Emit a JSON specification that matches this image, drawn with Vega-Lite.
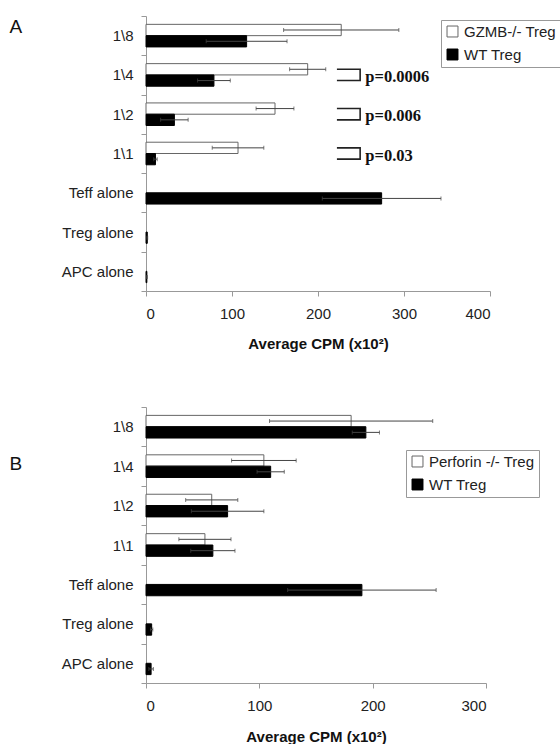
{
  "$schema": "https://vega.github.io/schema/vega-lite/v6.json",
  "padding": {"left": 9, "top": 9, "right": 0, "bottom": 0},
  "config": {
    "view": {"stroke": null},
    "font": "Liberation Sans",
    "axis": {
      "grid": false,
      "domainColor": "#999999",
      "tickColor": "#999999",
      "tickSize": 5,
      "labelFontSize": 15,
      "labelColor": "#222222",
      "labelFont": "Liberation Sans",
      "titleFont": "Liberation Sans",
      "titleColor": "#111111"
    },
    "legend": {
      "orient": "none",
      "title": null,
      "symbolType": "square",
      "symbolSize": 120,
      "symbolStrokeWidth": 1,
      "labelFontSize": 15,
      "labelColor": "#222222",
      "labelFont": "Liberation Sans",
      "strokeColor": "#999999",
      "fillColor": "white",
      "padding": 4,
      "rowPadding": 7,
      "labelOffset": 4
    }
  },
  "datasets": {
    "gzmb": [
      {"group": "1\\8", "series": "GZMB-/- Treg", "cpm": 227, "lo": 160, "hi": 294},
      {"group": "1\\8", "series": "WT Treg", "cpm": 117, "lo": 70, "hi": 164},
      {"group": "1\\4", "series": "GZMB-/- Treg", "cpm": 188, "lo": 167, "hi": 209},
      {"group": "1\\4", "series": "WT Treg", "cpm": 79, "lo": 60, "hi": 98},
      {"group": "1\\2", "series": "GZMB-/- Treg", "cpm": 150, "lo": 128, "hi": 172},
      {"group": "1\\2", "series": "WT Treg", "cpm": 33, "lo": 17, "hi": 49},
      {"group": "1\\1", "series": "GZMB-/- Treg", "cpm": 107, "lo": 77, "hi": 137},
      {"group": "1\\1", "series": "WT Treg", "cpm": 11, "lo": 9, "hi": 13},
      {"group": "Teff alone", "series": "WT Treg", "cpm": 274, "lo": 205, "hi": 343},
      {"group": "Treg alone", "series": "WT Treg", "cpm": 1.5, "lo": 1, "hi": 2},
      {"group": "APC alone", "series": "WT Treg", "cpm": 1, "lo": 0.5, "hi": 1.5}
    ],
    "brackets": [
      {"id": "b1", "group": "1\\4", "series": "GZMB-/- Treg", "cpm": 222, "step": 1},
      {"id": "b1", "group": "1\\4", "series": "GZMB-/- Treg", "cpm": 249, "step": 2},
      {"id": "b1", "group": "1\\4", "series": "WT Treg", "cpm": 249, "step": 3},
      {"id": "b1", "group": "1\\4", "series": "WT Treg", "cpm": 222, "step": 4},
      {"id": "b2", "group": "1\\2", "series": "GZMB-/- Treg", "cpm": 222, "step": 1},
      {"id": "b2", "group": "1\\2", "series": "GZMB-/- Treg", "cpm": 249, "step": 2},
      {"id": "b2", "group": "1\\2", "series": "WT Treg", "cpm": 249, "step": 3},
      {"id": "b2", "group": "1\\2", "series": "WT Treg", "cpm": 222, "step": 4},
      {"id": "b3", "group": "1\\1", "series": "GZMB-/- Treg", "cpm": 222, "step": 1},
      {"id": "b3", "group": "1\\1", "series": "GZMB-/- Treg", "cpm": 249, "step": 2},
      {"id": "b3", "group": "1\\1", "series": "WT Treg", "cpm": 249, "step": 3},
      {"id": "b3", "group": "1\\1", "series": "WT Treg", "cpm": 222, "step": 4}
    ],
    "pvals": [
      {"group": "1\\4", "label": "p=0.0006", "cpm": 255},
      {"group": "1\\2", "label": "p=0.006", "cpm": 255},
      {"group": "1\\1", "label": "p=0.03", "cpm": 255}
    ],
    "perforin": [
      {"group": "1\\8", "series": "Perforin -/- Treg", "cpm": 181, "lo": 109, "hi": 253},
      {"group": "1\\8", "series": "WT Treg", "cpm": 194, "lo": 182, "hi": 206},
      {"group": "1\\4", "series": "Perforin -/- Treg", "cpm": 104, "lo": 75.5, "hi": 132.5},
      {"group": "1\\4", "series": "WT Treg", "cpm": 110, "lo": 98, "hi": 122},
      {"group": "1\\2", "series": "Perforin -/- Treg", "cpm": 58, "lo": 35, "hi": 81},
      {"group": "1\\2", "series": "WT Treg", "cpm": 72, "lo": 40, "hi": 104},
      {"group": "1\\1", "series": "Perforin -/- Treg", "cpm": 52, "lo": 29, "hi": 75},
      {"group": "1\\1", "series": "WT Treg", "cpm": 59, "lo": 39.5, "hi": 78.5},
      {"group": "Teff alone", "series": "WT Treg", "cpm": 190.5, "lo": 125, "hi": 256},
      {"group": "Treg alone", "series": "WT Treg", "cpm": 5, "lo": 4, "hi": 6},
      {"group": "APC alone", "series": "WT Treg", "cpm": 4.5, "lo": 2.5, "hi": 6.5}
    ]
  },
  "vconcat": [
    {
      "width": 344,
      "height": 275,
      "encoding": {
        "y": {
          "field": "group", "type": "nominal", "sort": ["1\\8", "1\\4", "1\\2", "1\\1", "Teff alone", "Treg alone", "APC alone"],
          "scale": {"paddingInner": 0, "paddingOuter": 0},
          "axis": {
            "title": "A", "titleAngle": 0, "titleX": -137, "titleY": 1,
            "titleAlign": "left", "titleBaseline": "top", "titleFontSize": 19, "titleFontWeight": "normal",
            "tickBand": "extent", "labelPadding": 8
          }
        },
        "yOffset": {"field": "series", "type": "nominal", "scale": {"domain": ["GZMB-/- Treg", "WT Treg"], "paddingInner": 0, "paddingOuter": 0.74}}
      },
      "layer": [
        {
          "data": {"name": "gzmb"},
          "mark": {"type": "bar", "strokeWidth": 1},
          "encoding": {
            "x": {
              "field": "cpm", "type": "quantitative", "scale": {"domain": [0, 400], "nice": false},
              "axis": {"title": "Average CPM (x10²)", "values": [0, 100, 200, 300, 400], "labelPadding": 10, "titleFontSize": 15, "titleFontWeight": "bold", "titlePadding": 15}
            },
            "fill": {"field": "series", "type": "nominal", "scale": {"domain": ["GZMB-/- Treg", "WT Treg"], "range": ["#ffffff", "#000000"]}, "legend": {"legendX": 295, "legendY": 4}},
            "stroke": {"field": "series", "type": "nominal", "scale": {"domain": ["GZMB-/- Treg", "WT Treg"], "range": ["#666666", "#000000"]}, "legend": {"legendX": 295, "legendY": 4}}
          }
        },
        {
          "data": {"name": "gzmb"},
          "mark": {"type": "rule", "color": "#444444", "strokeWidth": 1},
          "encoding": {"x": {"field": "lo", "type": "quantitative"}, "x2": {"field": "hi"}}
        },
        {
          "data": {"name": "gzmb"},
          "mark": {"type": "tick", "color": "#444444", "thickness": 1, "size": 4},
          "encoding": {"x": {"field": "lo", "type": "quantitative"}}
        },
        {
          "data": {"name": "gzmb"},
          "mark": {"type": "tick", "color": "#444444", "thickness": 1, "size": 4},
          "encoding": {"x": {"field": "hi", "type": "quantitative"}}
        },
        {
          "data": {"name": "brackets"},
          "mark": {"type": "line", "color": "#222222", "strokeWidth": 1.6},
          "encoding": {
            "x": {"field": "cpm", "type": "quantitative"},
            "detail": {"field": "id"},
            "order": {"field": "step", "type": "quantitative"}
          }
        },
        {
          "data": {"name": "pvals"},
          "mark": {"type": "text", "align": "left", "baseline": "middle", "dy": 2, "font": "Liberation Serif", "fontWeight": "bold", "fontSize": 16.5, "color": "#111111"},
          "encoding": {
            "x": {"field": "cpm", "type": "quantitative"},
            "yOffset": null,
            "text": {"field": "label"}
          }
        }
      ]
    },
    {
      "width": 340,
      "height": 276,
      "encoding": {
        "y": {
          "field": "group", "type": "nominal", "sort": ["1\\8", "1\\4", "1\\2", "1\\1", "Teff alone", "Treg alone", "APC alone"],
          "scale": {"paddingInner": 0, "paddingOuter": 0},
          "axis": {
            "title": "B", "titleAngle": 0, "titleX": -137, "titleY": 47,
            "titleAlign": "left", "titleBaseline": "top", "titleFontSize": 19, "titleFontWeight": "normal",
            "tickBand": "extent", "labelPadding": 8
          }
        },
        "yOffset": {"field": "series", "type": "nominal", "scale": {"domain": ["Perforin -/- Treg", "WT Treg"], "paddingInner": 0, "paddingOuter": 0.74}}
      },
      "layer": [
        {
          "data": {"name": "perforin"},
          "mark": {"type": "bar", "strokeWidth": 1},
          "encoding": {
            "x": {
              "field": "cpm", "type": "quantitative", "scale": {"domain": [0, 300], "nice": false},
              "axis": {"title": "Average CPM (x10²)", "values": [0, 100, 200, 300], "labelPadding": 10, "titleFontSize": 15, "titleFontWeight": "bold", "titlePadding": 16}
            },
            "fill": {"field": "series", "type": "nominal", "scale": {"domain": ["Perforin -/- Treg", "WT Treg"], "range": ["#ffffff", "#000000"]}, "legend": {"legendX": 260, "legendY": 43}},
            "stroke": {"field": "series", "type": "nominal", "scale": {"domain": ["Perforin -/- Treg", "WT Treg"], "range": ["#666666", "#000000"]}, "legend": {"legendX": 260, "legendY": 43}}
          }
        },
        {
          "data": {"name": "perforin"},
          "mark": {"type": "rule", "color": "#444444", "strokeWidth": 1},
          "encoding": {"x": {"field": "lo", "type": "quantitative"}, "x2": {"field": "hi"}}
        },
        {
          "data": {"name": "perforin"},
          "mark": {"type": "tick", "color": "#444444", "thickness": 1, "size": 4},
          "encoding": {"x": {"field": "lo", "type": "quantitative"}}
        },
        {
          "data": {"name": "perforin"},
          "mark": {"type": "tick", "color": "#444444", "thickness": 1, "size": 4},
          "encoding": {"x": {"field": "hi", "type": "quantitative"}}
        }
      ]
    }
  ],
  "spacing": 49,
  "resolve": {"scale": {"fill": "independent", "stroke": "independent", "yOffset": "independent", "y": "independent", "x": "independent"}, "legend": {"fill": "independent", "stroke": "independent"}}
}
